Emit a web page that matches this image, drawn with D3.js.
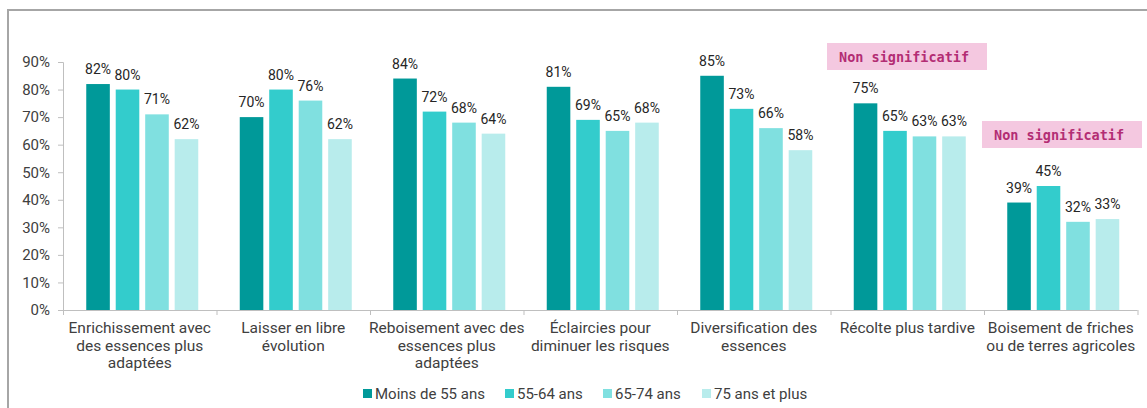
<!DOCTYPE html>
<html>
<head>
<meta charset="utf-8">
<script src="https://cdn.jsdelivr.net/npm/d3@7"></script>
<style>
  body { margin: 0; background: #fff; }
  svg text { font-family: Roboto, "Liberation Sans", sans-serif; }
</style>
</head>
<body>
<div id="chart"></div>
<script>
// categories (label lines) and values per age band
var categories = [
  ['Enrichissement avec', 'des essences plus', 'adaptées'],
  ['Laisser en libre', 'évolution'],
  ['Reboisement avec des', 'essences plus', 'adaptées'],
  ['Éclaircies pour', 'diminuer les risques'],
  ['Diversification des', 'essences'],
  ['Récolte plus tardive'],
  ['Boisement de friches', 'ou de terres agricoles']
];
var seriesNames = ['Moins de 55 ans', '55-64 ans', '65-74 ans', '75 ans et plus'];
var moins55 = [82, 70, 84, 81, 85, 75, 39];
var age5564 = [80, 80, 72, 69, 73, 65, 45];
var age6574 = [71, 76, 68, 65, 66, 63, 32];
var plus75 = [62, 62, 64, 68, 58, 63, 33];
var yTicks = [0, 10, 20, 30, 40, 50, 60, 70, 80, 90];
var notSignificant = [5, 6]; // category indexes flagged "Non significatif"

var colors = ['#009999', '#33cccc', '#80e0e0', '#b8ecec'];
var series = [moins55, age5564, age6574, plus75];

var W = 1147, H = 408;
var svg = d3.select('#chart').append('svg')
  .attr('width', W).attr('height', H);

// frame (only top and left edges are visible in the crop)
svg.append('path')
  .attr('d', 'M8,' + H + 'V10H' + W)
  .attr('fill', 'none')
  .attr('stroke', '#a6a6a6')
  .attr('stroke-width', 2);

var x0 = d3.scaleBand().domain(d3.range(categories.length)).range([63, 1137.5]);
var x1 = d3.scaleBand().domain(d3.range(series.length)).range([0, 112]).paddingInner(0.2);
var y = d3.scaleLinear().domain([0, 90]).range([310, 62]);

// y axis
var yAxis = svg.append('g').attr('transform', 'translate(63,0)')
  .call(d3.axisLeft(y).tickValues(yTicks).tickSize(5).tickFormat(function(d) { return d + '%'; }));
yAxis.select('.domain').attr('stroke', '#bfbfbf').attr('d', 'M-5,62.5H0.5V310.5H-5');
yAxis.selectAll('.tick line').attr('stroke', '#bfbfbf');
yAxis.selectAll('.tick text').attr('font-size', 15).attr('fill', '#404040')
  .attr('x', -13).style('font-family', 'Roboto, sans-serif');

// x axis line with category ticks
var xAxis = svg.append('g').attr('transform', 'translate(0,310)');
xAxis.append('line').attr('x1', 63).attr('x2', 1137.5).attr('y1', 0.5).attr('y2', 0.5)
  .attr('stroke', '#bfbfbf');
xAxis.selectAll('.ct').data(d3.range(categories.length + 1)).enter().append('line')
  .attr('x1', function(d) { return 63.5 + d * x0.step(); })
  .attr('x2', function(d) { return 63.5 + d * x0.step(); })
  .attr('y1', 0).attr('y2', 5).attr('stroke', '#bfbfbf');

// bars
var groups = svg.selectAll('.grp').data(categories).enter().append('g')
  .attr('transform', function(d, i) { return 'translate(' + (x0(i) + (x0.bandwidth() - 112) / 2 + 2.5) + ',0)'; });

groups.each(function(c, ci) {
  var g = d3.select(this);
  series.forEach(function(s, si) {
    g.append('rect')
      .attr('x', x1(si))
      .attr('y', y(s[ci]))
      .attr('width', x1.bandwidth())
      .attr('height', y(0) - y(s[ci]))
      .attr('fill', colors[si]);
    g.append('text')
      .attr('x', x1(si) + x1.bandwidth() / 2)
      .attr('y', y(s[ci]) - 10)
      .attr('text-anchor', 'middle')
      .attr('font-size', 14)
      .attr('fill', '#262626')
      .text(s[ci] + '%');
  });
});

// category labels
svg.selectAll('.cat').data(categories).enter().append('text')
  .attr('x', function(d, i) { return x0(i) + x0.bandwidth() / 2; })
  .attr('y', 333)
  .attr('text-anchor', 'middle')
  .attr('font-size', 15.5)
  .attr('fill', '#404040')
  .each(function(lines) {
    var t = d3.select(this);
    lines.forEach(function(l, k) {
      t.append('tspan').attr('x', t.attr('x')).attr('dy', k ? 17.5 : 0).text(l);
    });
  });

// "Non significatif" badges
var badgeTop = [43, 121];
notSignificant.forEach(function(ci, k) {
  var bx = k === 0 ? 827 : 982;
  svg.append('rect')
    .attr('x', bx).attr('y', badgeTop[k])
    .attr('width', 160).attr('height', 27)
    .attr('fill', '#f4c8e0');
  svg.append('text')
    .attr('x', bx + 12).attr('y', badgeTop[k] + 18.5)
    .attr('font-size', 13.5)
    .attr('font-weight', 'bold')
    .attr('fill', '#b32d74')
    .style('font-family', '"DejaVu Sans Mono", "Liberation Mono", monospace')
    .text('Non significatif');
});

// legend
var legendX = [363, 505, 603, 702];
var legend = svg.selectAll('.leg').data(seriesNames).enter().append('g')
  .attr('transform', function(d, i) { return 'translate(' + legendX[i] + ',389)'; });
legend.append('rect').attr('width', 9).attr('height', 9)
  .attr('fill', function(d, i) { return colors[i]; });
legend.append('text').attr('x', 12).attr('y', 10)
  .attr('font-size', 15).attr('fill', '#404040')
  .text(function(d) { return d; });
</script>
</body>
</html>
